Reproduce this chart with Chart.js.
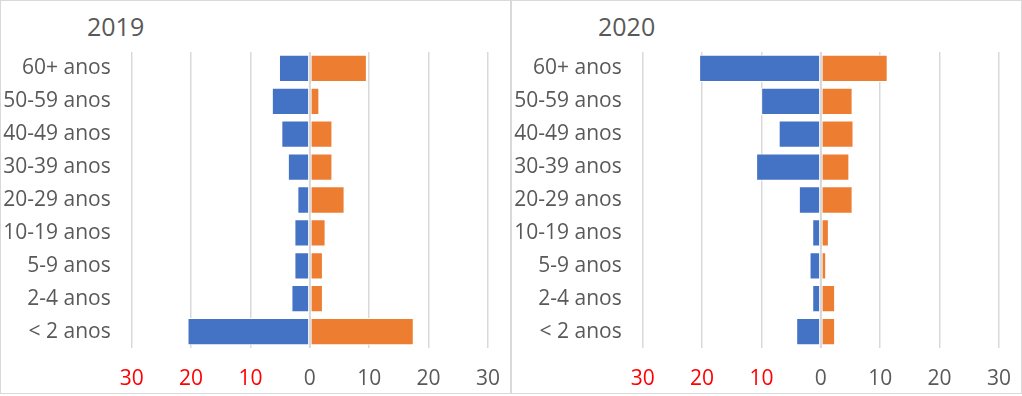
<!DOCTYPE html>
<html>
<head>
<meta charset="utf-8">
<script src="https://cdn.jsdelivr.net/npm/chart.js@4"></script>
<style>
  html, body { margin: 0; padding: 0; background: #fff; }
  body { width: 1022px; height: 396px; position: relative; overflow: hidden; font-family: "Open Sans", sans-serif; }
  .panel { position: absolute; top: 0; width: 509px; height: 392px; border: 1px solid #d9d9d9; }
  .panel canvas { position: absolute; left: 0; top: 0; }
  .title { position: absolute; left: 86px; top: 10px; font-size: 25px; color: #595959; line-height: 1.2; }
</style>
</head>
<body>
<div class="panel" style="left:0"><div class="title">2019</div><canvas id="chart2019" width="509" height="392"></canvas></div>
<div class="panel" style="left:511px"><div class="title">2020</div><canvas id="chart2020" width="509" height="392"></canvas></div>
<script>
// Age groups, top to bottom
const ageGroups = ['60+ anos', '50-59 anos', '40-49 anos', '30-39 anos', '20-29 anos', '10-19 anos', '5-9 anos', '2-4 anos', '< 2 anos'];

// Left side (negative) and right side (positive) values
const left2019 = [-5.2, -6.4, -4.8, -3.7, -2.1, -2.6, -2.6, -3.1, -20.6];
const right2019 = [9.6, 1.6, 3.8, 3.8, 5.85, 2.65, 2.2, 2.2, 17.5];
const left2020 = [-20.5, -10.05, -7.1, -10.9, -3.7, -1.45, -1.9, -1.45, -4.15];
const right2020 = [11.25, 5.35, 5.5, 4.8, 5.35, 1.35, 0.9, 2.4, 2.4];

// Axis ticks
const tickMin = -30;
const tickMax = 30;
const tickStep = 10;

const textGray = '#595959';
const gridGray = '#d9d9d9';

// Draw the zero line over the bars, like Excel's vertical axis
const zeroLine = {
    id: 'zeroLine',
    afterDatasetsDraw(chart) {
        const x = chart.scales.x.getPixelForValue(0);
        const area = chart.chartArea;
        const ctx = chart.ctx;
        ctx.save();
        ctx.strokeStyle = gridGray;
        ctx.lineWidth = 2;
        ctx.beginPath();
        ctx.moveTo(x, area.top);
        ctx.lineTo(x, area.bottom);
        ctx.stroke();
        ctx.restore();
    }
};

function makeChart(id, leftValues, rightValues) {
    const ctx = document.getElementById(id).getContext('2d');
    return new Chart(ctx, {
        type: 'bar',
        data: {
            labels: ageGroups,
            datasets: [
                {
                    data: leftValues,
                    backgroundColor: '#4472c4',
                    borderColor: '#ffffff',
                    borderWidth: 1,
                    borderSkipped: false
                },
                {
                    data: rightValues,
                    backgroundColor: '#ed7d31',
                    borderColor: '#ffffff',
                    borderWidth: 1,
                    borderSkipped: false
                }
            ]
        },
        options: {
            indexAxis: 'y',
            responsive: false,
            animation: false,
            barPercentage: 0.83,
            categoryPercentage: 1,
            layout: {
                padding: { top: 51, right: 22, bottom: 0, left: 0 }
            },
            plugins: {
                legend: { display: false },
                title: { display: false },
                tooltip: { enabled: false }
            },
            scales: {
                x: {
                    stacked: true,
                    min: tickMin,
                    max: tickMax,
                    border: { display: false },
                    grid: { color: gridGray, lineWidth: 1.5, drawTicks: false },
                    ticks: {
                        stepSize: tickStep,
                        padding: 18,
                        font: { family: 'Open Sans', size: 21 },
                        color: c => c.tick.value < 0 ? '#ff0000' : textGray,
                        callback: v => Math.abs(v)
                    },
                    afterFit: scale => {
                        scale.height = 45;
                        scale.paddingLeft = 0;
                        scale.paddingRight = 0;
                    }
                },
                y: {
                    stacked: true,
                    border: { display: false },
                    grid: { display: false, drawTicks: false },
                    ticks: {
                        padding: 21,
                        font: { family: 'Open Sans', size: 21 },
                        color: textGray
                    },
                    afterFit: scale => { scale.width = 130.7; }
                }
            }
        },
        plugins: [zeroLine]
    });
}

makeChart('chart2019', left2019, right2019);
makeChart('chart2020', left2020, right2020);
</script>
</body>
</html>
